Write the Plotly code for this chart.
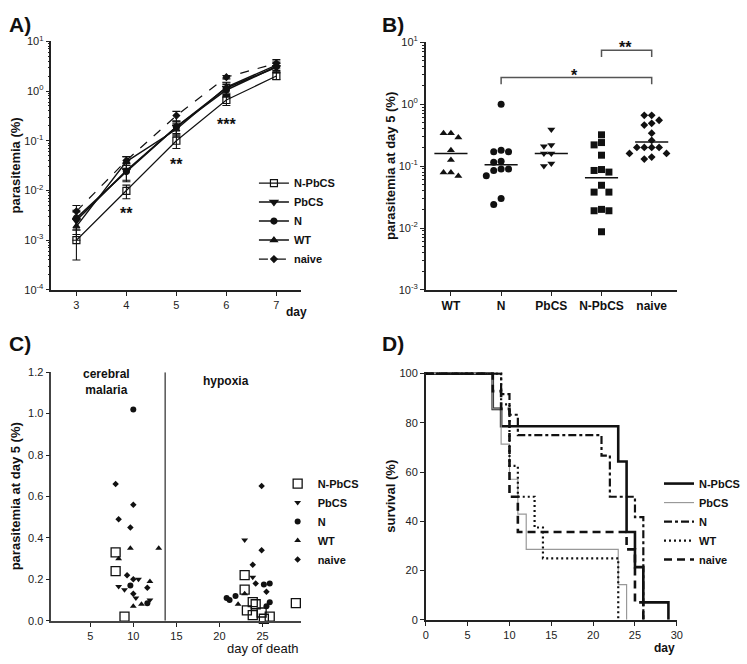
import numpy as np
import plotly.graph_objects as go

W, H = 747, 664
FONT = "Liberation Sans, Arial, Helvetica, sans-serif"

# ---------------- A) parasitemia course (mean, SEM) ----------------
a_days = [3, 4, 5, 6, 7]
a_names = ["N-PbCS", "PbCS", "N", "WT", "naive"]
a_npbcs = [0.0010, 0.0098, 0.10, 0.66, 2.0]
a_npbcs_err = [0.0006, 0.0030, 0.030, 0.15, 0.30]
a_pbcs = [0.0025, 0.025, 0.19, 1.15, 3.0]
a_pbcs_err = [0.0012, 0.010, 0.060, 0.30, 0.60]
a_n = [0.0028, 0.024, 0.19, 1.05, 3.1]
a_n_err = [0.0012, 0.008, 0.050, 0.30, 0.60]
a_wt = [0.0019, 0.038, 0.17, 1.20, 3.3]
a_wt_err = [0.0009, 0.010, 0.050, 0.30, 0.70]
a_naive = [0.0038, 0.040, 0.32, 1.90, 3.6]
a_naive_err = [0.0012, 0.008, 0.070, 0.15, 0.70]
a_sig_days = [4, 5, 6]
a_sig_labels = ["**", "**", "***"]

# ---------------- B) parasitemia at day 5, per mouse ----------------
b_groups = ["WT", "N", "PbCS", "N-PbCS", "naive"]
b_wt = [0.34, 0.34, 0.29, 0.18, 0.125, 0.079, 0.079, 0.069]
b_n = [1.0, 0.18, 0.17, 0.17, 0.12, 0.115, 0.09, 0.09, 0.085, 0.07, 0.03, 0.024]
b_pbcs = [0.39, 0.22, 0.21, 0.16, 0.16, 0.11, 0.10]
b_npbcs = [0.32, 0.24, 0.22, 0.15, 0.088, 0.085, 0.08, 0.049, 0.038, 0.038,
           0.020, 0.019, 0.019, 0.0087]
b_naive = [0.66, 0.66, 0.55, 0.49, 0.46, 0.34, 0.26, 0.20, 0.20, 0.20, 0.20,
           0.16, 0.16, 0.13, 0.14]
b_medians = [0.16, 0.105, 0.16, 0.065, 0.245]
b_sig = [("N", "naive", "*", 2.7, 2.1), ("N-PbCS", "naive", "**", 7.4, 5.8)]

# ---------------- C) parasitemia vs day of death ----------------
c_npbcs_day = [7.95, 7.95, 8.98, 22.92, 22.92, 23.86, 24.2, 23.18, 23.86, 24.89, 25.15, 25.83, 28.86]
c_npbcs_par = [0.33, 0.24, 0.02, 0.22, 0.15, 0.09, 0.08, 0.05, 0.027, 0.04, 0.01, 0.02, 0.085]
c_pbcs_day = [8.3, 8.98, 10.6, 10.3, 11.93, 22.92, 23.86]
c_pbcs_par = [0.165, 0.15, 0.20, 0.11, 0.10, 0.39, 0.21]
c_n_day = [10.0, 9.66, 11.63, 20.83, 21.17, 21.86, 25.15, 25.83, 25.83, 25.45]
c_n_par = [1.02, 0.17, 0.085, 0.11, 0.10, 0.12, 0.175, 0.18, 0.09, 0.07]
c_wt_day = [8.3, 9.66, 12.95, 11.93, 10.0, 10.95, 22.92, 22.16]
c_wt_par = [0.30, 0.35, 0.35, 0.19, 0.07, 0.08, 0.13, 0.08]
c_naive_day = [7.95, 8.3, 10.0, 9.66, 9.28, 10.0, 10.0, 11.63, 24.89, 24.89, 23.86, 24.2, 25.45]
c_naive_par = [0.66, 0.49, 0.56, 0.45, 0.22, 0.20, 0.13, 0.16, 0.65, 0.34, 0.27, 0.18, 0.14]
c_split_day = 13.7

# ---------------- D) survival (Kaplan-Meier steps) ----------------
d_npbcs_t = [0, 8, 9, 23, 24, 25, 26, 29]
d_npbcs_s = [100, 85.7, 78.6, 64.3, 35.7, 21.4, 7.1, 0]
d_pbcs_t = [0, 8, 9, 10, 11, 12, 23, 24]
d_pbcs_s = [100, 85.7, 71.4, 57.1, 42.9, 28.6, 14.3, 0]
d_n_t = [0, 9, 10, 11, 21, 22, 25, 26]
d_n_s = [100, 91.7, 83.3, 75.0, 66.7, 50.0, 41.7, 0]
d_wt_t = [0, 9, 10, 11, 13, 14, 23]
d_wt_s = [100, 87.5, 62.5, 50.0, 37.5, 25.0, 0]
d_naive_t = [0, 8, 9, 10, 11, 24, 25, 26]
d_naive_s = [100, 92.9, 85.7, 50.0, 35.7, 28.6, 7.1, 0]


def px_x(px):
    return px / W


def px_y(py):
    return 1 - py / H


dom = {
    "A": ([px_x(49), px_x(302)], [px_y(288), px_y(34)]),
    "B": ([px_x(428), px_x(682)], [px_y(288), px_y(35)]),
    "C": ([px_x(49), px_x(302)], [px_y(626), px_y(372)]),
    "D": ([px_x(428), px_x(682)], [px_y(625), px_y(372)]),
}

fig = go.Figure()

# ---------- A traces ----------
a_series = [
    (a_npbcs, a_npbcs_err, "square-open", 7, 1.2, "solid"),
    (a_pbcs, a_pbcs_err, "triangle-down", 7, 1.6, "solid"),
    (a_n, a_n_err, "circle", 6, 1.6, "solid"),
    (a_wt, a_wt_err, "triangle-up", 6, 1.4, "solid"),
    (a_naive, a_naive_err, "diamond", 5, 1.2, "dash"),
]
for name, (vals, err, sym, size, lw, dash) in zip(a_names, a_series):
    fig.add_trace(go.Scatter(
        x=a_days, y=vals, name=name, mode="lines+markers",
        error_y=dict(type="data", array=err, visible=True, color="#111",
                     thickness=1.1, width=4),
        marker=dict(symbol=sym, size=size, color="#111",
                    line=dict(color="#111", width=1.2)),
        line=dict(color="#111", width=lw, dash=dash),
        xaxis="x", yaxis="y", legend="legend", cliponaxis=False))

# ---------- B traces (beeswarm) ----------
def swarm(vals, step_px=7.5, diam_px=7.2, px_per_dec=63.3, px_per_cat=50.8):
    ys = np.log10(np.asarray(vals, dtype=float)) * px_per_dec
    order = np.argsort(-np.asarray(vals))
    placed = []
    offs = np.zeros(len(vals))
    cands = [0]
    for m in range(1, 8):
        cands += [-m, m]
    for i in order:
        for c in cands:
            xo = c * step_px
            ok = all(abs(xo - px) >= diam_px * 0.99 or abs(ys[i] - py) >= diam_px
                     for px, py in placed)
            if ok:
                offs[i] = xo
                break
        placed.append((offs[i], ys[i]))
    return offs / px_per_cat


b_data = [b_wt, b_n, b_pbcs, b_npbcs, b_naive]
b_syms = ["triangle-up", "circle", "triangle-down", "square", "diamond"]
b_sizes = [7, 7, 7, 7, 6]
for i, (vals, sym, sz) in enumerate(zip(b_data, b_syms, b_sizes)):
    xs = i + swarm(vals)
    fig.add_trace(go.Scatter(
        x=xs, y=vals, mode="markers", showlegend=False,
        marker=dict(symbol=sym, size=sz, color="#111"),
        xaxis="x2", yaxis="y2", cliponaxis=False))
    fig.add_trace(go.Scatter(
        x=[i - 0.33, i + 0.33], y=[b_medians[i]] * 2, mode="lines",
        showlegend=False, line=dict(color="#111", width=1.5),
        xaxis="x2", yaxis="y2"))

for g1, g2, lab, top, bot in b_sig:
    i1, i2 = b_groups.index(g1), b_groups.index(g2)
    fig.add_trace(go.Scatter(
        x=[i1, i1, i2, i2], y=[bot, top, top, bot], mode="lines",
        showlegend=False, line=dict(color="#555", width=1.5),
        xaxis="x2", yaxis="y2", cliponaxis=False))

# ---------- C traces ----------
c_series = [
    ("N-PbCS", c_npbcs_day, c_npbcs_par, "square-open", 9),
    ("PbCS", c_pbcs_day, c_pbcs_par, "triangle-down", 6),
    ("N", c_n_day, c_n_par, "circle", 6),
    ("WT", c_wt_day, c_wt_par, "triangle-up", 6),
    ("naive", c_naive_day, c_naive_par, "diamond", 5),
]
for name, dx, dy, sym, sz in c_series:
    fig.add_trace(go.Scatter(
        x=dx, y=dy, name=name, mode="markers",
        marker=dict(symbol=sym, size=sz, color="#111",
                    line=dict(color="#111", width=1.3 if "open" in sym else 0)),
        xaxis="x3", yaxis="y3", legend="legend2", cliponaxis=False))

# ---------- D traces ----------
d_series = [
    ("N-PbCS", d_npbcs_t, d_npbcs_s, "#111", 2.6, "solid"),
    ("PbCS", d_pbcs_t, d_pbcs_s, "#999", 1.2, "solid"),
    ("N", d_n_t, d_n_s, "#111", 2.2, "8px,3px,3px,3px"),
    ("WT", d_wt_t, d_wt_s, "#111", 2.2, "2px,3px"),
    ("naive", d_naive_t, d_naive_s, "#111", 2.6, "8px,5px"),
]
for name, t, s, col, lw, dash in d_series:
    fig.add_trace(go.Scatter(
        x=t, y=s, name=name, mode="lines", line_shape="hv",
        line=dict(color=col, width=lw, dash=dash),
        xaxis="x4", yaxis="y4", legend="legend3"))

# ---------- axes ----------
tickfont = dict(family=FONT, size=11, color="#222")
ax = dict(showline=True, linecolor="#222", linewidth=1.6, ticks="outside",
          ticklen=4, tickwidth=1.3, tickcolor="#222", showgrid=False,
          zeroline=False, tickfont=tickfont)


def logminor(lo, hi):
    return [k * 10.0 ** e for e in range(lo, hi) for k in range(2, 10)]


fig.update_layout(
    xaxis=dict(ax, domain=dom["A"][0], anchor="y", range=[2.5, 7.5],
               tickmode="array", tickvals=a_days),
    yaxis=dict(ax, domain=dom["A"][1], anchor="x", type="log", range=[-4, 1],
               tickmode="array", tickvals=[10.0 ** e for e in range(-4, 2)],
               ticktext=["10<sup>%d</sup>" % e for e in range(-4, 2)],
               minor=dict(tickmode="array", tickvals=logminor(-4, 1),
                          ticks="outside", ticklen=2, tickwidth=1, tickcolor="#222")),
    xaxis2=dict(ax, domain=dom["B"][0], anchor="y2", range=[-0.5, 4.5],
                tickmode="array", tickvals=list(range(len(b_groups))),
                ticktext=["<b>%s</b>" % g for g in b_groups],
                tickfont=dict(family=FONT, size=12, color="#111")),
    yaxis2=dict(ax, domain=dom["B"][1], anchor="x2", type="log", range=[-3, 1],
                tickmode="array", tickvals=[10.0 ** e for e in range(-3, 2)],
                ticktext=["10<sup>%d</sup>" % e for e in range(-3, 2)],
                minor=dict(tickmode="array", tickvals=logminor(-3, 1),
                           ticks="outside", ticklen=2, tickwidth=1, tickcolor="#222")),
    xaxis3=dict(ax, domain=dom["C"][0], anchor="y3", range=[0.5, 29.5],
                tickmode="array", tickvals=[5, 10, 15, 20, 25], linecolor="#444"),
    yaxis3=dict(ax, domain=dom["C"][1], anchor="x3", range=[0, 1.2],
                tickmode="linear", tick0=0, dtick=0.2, tickformat=".1f", linecolor="#444"),
    xaxis4=dict(ax, domain=dom["D"][0], anchor="y4", range=[0, 30],
                tickmode="linear", tick0=0, dtick=5),
    yaxis4=dict(ax, domain=dom["D"][1], anchor="x4", range=[0, 100.6],
                tickmode="array", tickvals=[0, 20, 40, 60, 80, 100]),
)

# ---------- legends ----------
lfont = dict(family=FONT, size=11, color="#111", weight="bold")
fig.update_layout(
    legend=dict(x=px_x(254), y=px_y(164), xanchor="left", yanchor="top",
                font=lfont, bgcolor="rgba(0,0,0,0)", traceorder="normal"),
    legend2=dict(x=px_x(278), y=px_y(471), xanchor="left", yanchor="top",
                 font=lfont, bgcolor="rgba(0,0,0,0)", traceorder="normal"),
    legend3=dict(x=px_x(664), y=px_y(471), xanchor="left", yanchor="top",
                 font=lfont, bgcolor="rgba(0,0,0,0)", traceorder="normal"),
)

# ---------- shapes ----------
fig.add_shape(type="line", xref="x3", yref="y3", x0=c_split_day, x1=c_split_day,
              y0=0, y1=1.2, line=dict(color="#555", width=1.5))

# ---------- annotations ----------
ann = []


def text(px, py, s, size=12, bold=False, angle=0, xanchor="center", color="#111"):
    ann.append(dict(x=px_x(px), y=px_y(py), xref="paper", yref="paper",
                    text=("<b>%s</b>" % s) if bold else s, showarrow=False,
                    textangle=angle, xanchor=xanchor, yanchor="middle",
                    font=dict(family=FONT, size=size, color=color)))


# panel letters
text(4, 17, "A)", 21, True, xanchor="left")
text(382, 17, "B)", 21, True, xanchor="left")
text(4, 343, "C)", 21, True, xanchor="left")
text(382, 343, "D)", 21, True, xanchor="left")
# y titles
text(13, 161, "parasitemia (%)", 13, True, angle=-90)
text(392, 161, "parasitemia at day 5 (%)", 13, True, angle=-90)
text(13, 499, "parasitemia at day 5 (%)", 13, True, angle=-90)
text(392, 499, "survival (%)", 13, True, angle=-90)
# x titles
text(310, 311, "day", 12, True, xanchor="right")
text(302, 654, "day of death", 13, False, xanchor="right")
text(682, 654, "day", 12, True, xanchor="right")
# significance marks
a_sig_py = [210, 160, 119]
for d, lab, py in zip(a_sig_days, a_sig_labels, a_sig_py):
    x_px = 49 + (d - 2.5) * (302 - 49) / 5.0
    text(x_px, py, lab, 16, True)
text(578, 69, "*", 16, True)
text(630, 40, "**", 16, True)
# C region labels
text(105, 382, "cerebral<br>malaria", 12, True)
text(226, 381, "hypoxia", 12, True)

fig.update_layout(
    annotations=ann,
    width=W, height=H, margin=dict(l=0, r=0, t=0, b=0),
    paper_bgcolor="white", plot_bgcolor="white",
    font=dict(family=FONT, size=11, color="#111"),
)

fig.write_html("out.html",
               config={"displayModeBar": False},
               post_script="document.body.style.margin='0';"
                           "document.body.style.overflow='hidden';")
